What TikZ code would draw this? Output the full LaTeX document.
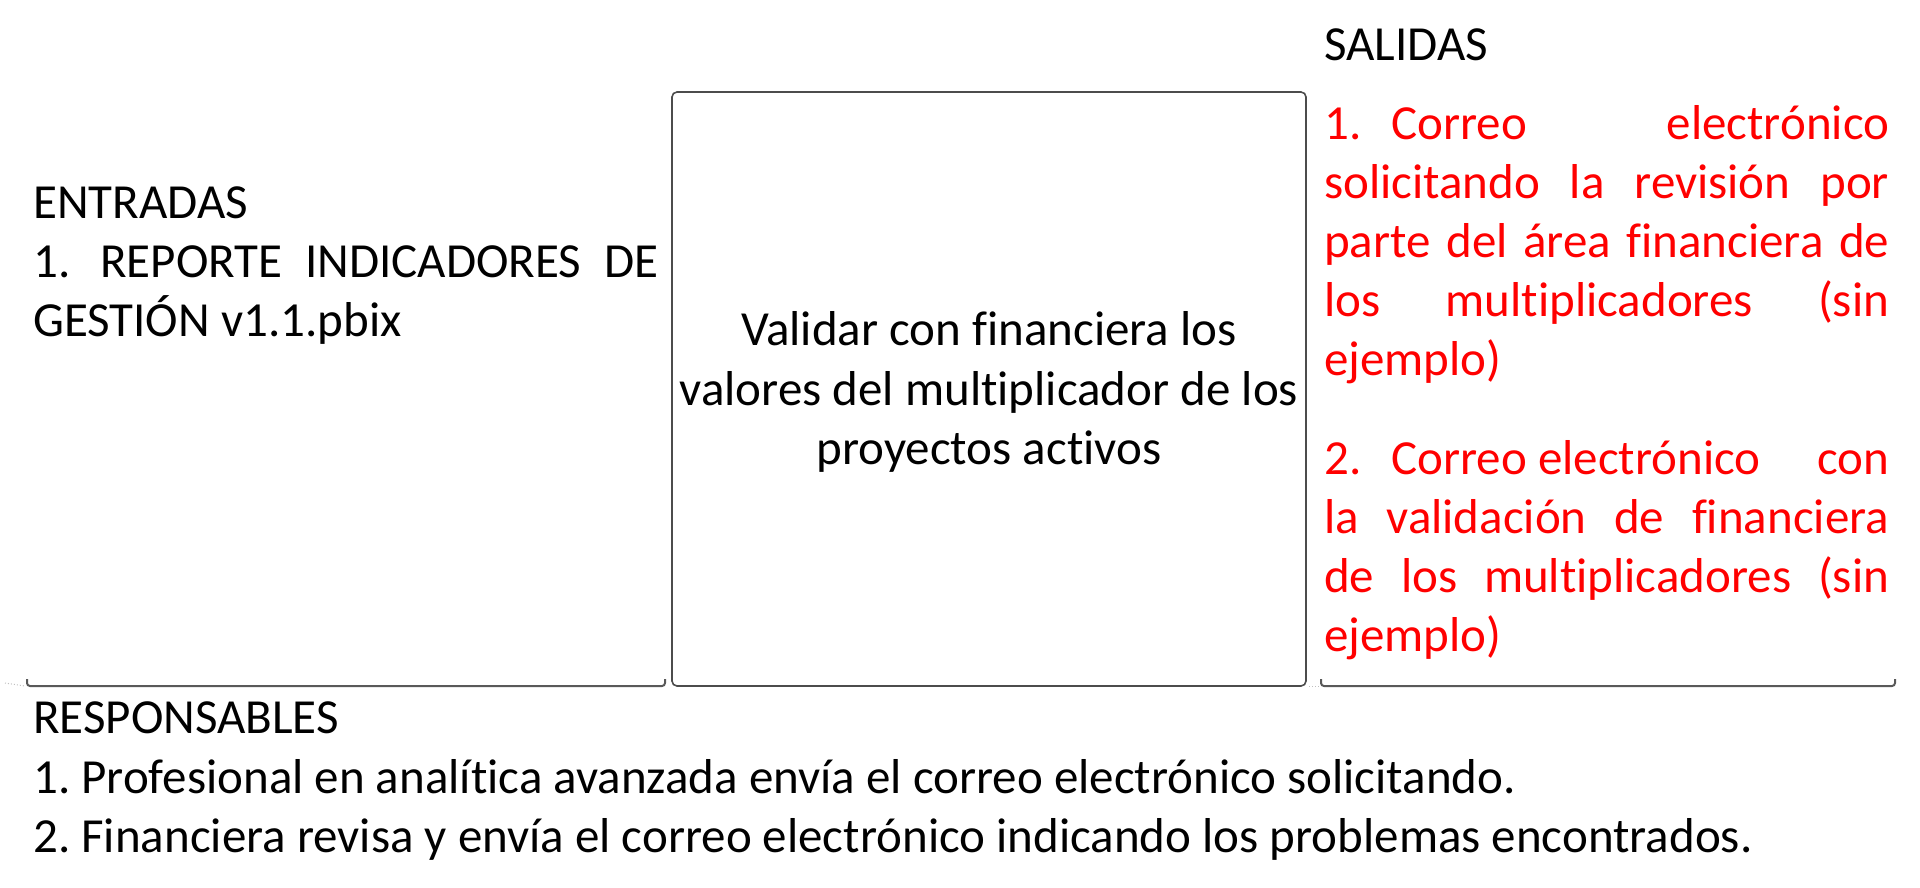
\documentclass[tikz,border=0pt]{standalone}
\usepackage{fontspec}
\setmainfont{Carlito}[Ligatures=NoCommon]
\frenchspacing
\begin{document}
\begin{tikzpicture}[x=1pt,y=-1pt,
  txt/.style={anchor=base west,inner sep=0pt,font=\fontsize{49}{59}\selectfont},
  ctxt/.style={anchor=base,inner sep=0pt,font=\fontsize{49}{59}\selectfont},
  rtxt/.style={txt,text=red},
  edge/.style={draw=black!65,line width=2pt,rounded corners=3pt},
  faint/.style={draw=black!25,line width=1pt,dotted}]
\useasboundingbox (0,0) rectangle (1920,887);
% process box
\node[draw=black!70,line width=1.6pt,rounded corners=5pt,minimum width=634pt,minimum height=594pt,inner sep=0pt] (proc) at (989,389) {};
% bottom edges
\coordinate (l1) at (27,679); \coordinate (l1b) at (27,686);
\coordinate (l2) at (665,679); \coordinate (l2b) at (665,686);
\draw[edge] (l1) -- (l1b) -- (l2b) -- (l2);
\coordinate (r1) at (1321,679); \coordinate (r1b) at (1321,686);
\coordinate (r2) at (1895,679); \coordinate (r2b) at (1895,686);
\draw[edge] (r1) -- (r1b) -- (r2b) -- (r2);
\coordinate (f1) at (5,683); \coordinate (f2) at (25,686);
\draw[faint] (f1) -- (f2);
\coordinate (g1) at (1309,686); \coordinate (g2) at (1319,686);
\draw[faint] (g1) -- (g2);
% entradas
\node[txt] (ent) at (33,218) {ENTRADAS};
\node[txt] (ent1) at (33,277) {\makebox[625pt][s]{1.\hspace{30pt}REPORTE INDICADORES DE}};
\node[txt] (ent2) at (33,336) {GESTIÓN v1.1.pbix};
% process text
\node[ctxt] (p1) at (989,345) {Validar con financiera los};
\node[ctxt] (p2) at (989,405) {valores del multiplicador de los};
\node[ctxt] (p3) at (989,464) {proyectos activos};
% salidas
\node[txt] (sal) at (1324,60) {SALIDAS};
\node[rtxt] (s1) at (1324,139) {\makebox[565pt][s]{1.\hspace{30pt}Correo\hfill electrónico}};
\node[rtxt] (s2) at (1324,198) {\makebox[565pt][s]{solicitando la revisión por}};
\node[rtxt] (s3) at (1324,257) {\makebox[565pt][s]{parte del área financiera de}};
\node[rtxt] (s4) at (1324,316) {\makebox[565pt][s]{los\hfill multiplicadores\hfill (sin}};
\node[rtxt] (s5) at (1324,375) {ejemplo)};
\node[rtxt] (s6) at (1324,474) {\makebox[565pt][s]{2.\hspace{30pt}Correo electrónico\hfill con}};
\node[rtxt] (s7) at (1324,533) {\makebox[565pt][s]{la validación de financiera}};
\node[rtxt] (s8) at (1324,592) {\makebox[565pt][s]{de los multiplicadores (sin}};
\node[rtxt] (s9) at (1324,651) {ejemplo)};
% responsables
\node[txt] (res) at (33,733) {RESPONSABLES};
\node[txt] (res1) at (33,793) {1. Profesional en analítica avanzada envía el correo electrónico solicitando.};
\node[txt] (res2) at (33,852) {2. Financiera revisa y envía el correo electrónico indicando los problemas encontrados.};
\end{tikzpicture}
\end{document}
